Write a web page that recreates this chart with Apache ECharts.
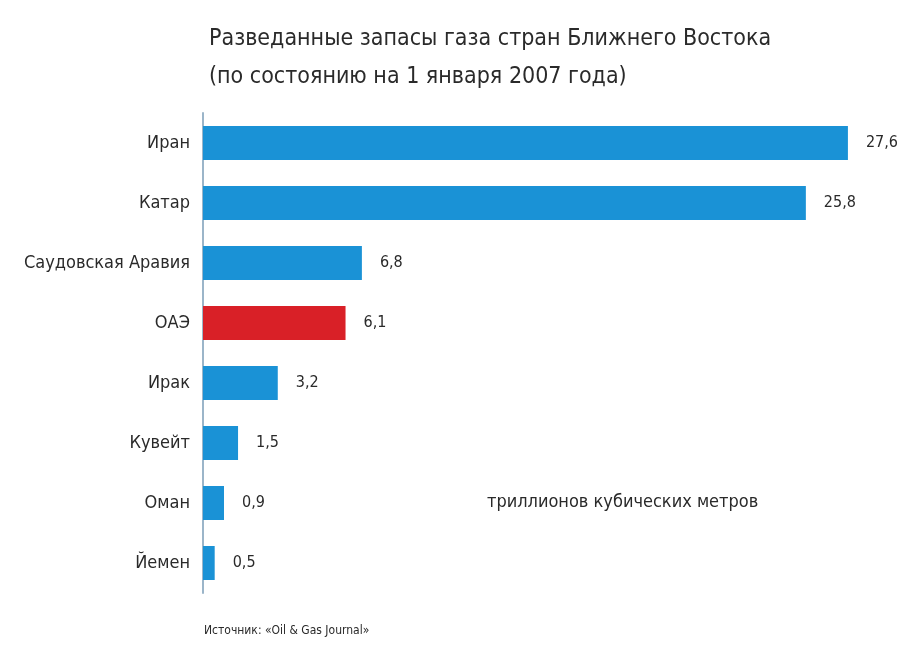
<!DOCTYPE html>
<html><head><meta charset="utf-8">
<script src="https://cdn.jsdelivr.net/npm/echarts@6/dist/echarts.min.js"></script>
<style>html,body{margin:0;padding:0;background:#fff}#c{width:918px;height:649px}</style>
</head><body><div id="c"></div>
<script>
const categories = ['Иран','Катар','Саудовская Аравия','ОАЭ','Ирак','Кувейт','Оман','Йемен'];
const values = [27.6, 25.8, 6.8, 6.1, 3.2, 1.5, 0.9, 0.5];
const highlight = 'ОАЭ';
const titleLines = ['Разведанные запасы газа стран Ближнего Востока','(по состоянию на 1 января 2007 года)'];
const unitText = 'триллионов кубических метров';
const sourceText = 'Источник: «Oil & Gas Journal»';

const FONT = 'DejaVu Sans Condensed, Liberation Sans Narrow, sans-serif';
const chart = echarts.init(document.getElementById('c'));
chart.setOption({
  backgroundColor: '#fff',
  animation: false,
  title: {
    text: titleLines.join('\n'), left: 204, top: 15,
    textStyle: {fontFamily: FONT, fontSize: 23, fontWeight: 'normal', color: '#2a2a2a', lineHeight: 38}
  },
  graphic: [
    {type: 'text', left: 487, top: 493, style: {text: unitText, font: '18px ' + FONT, fill: '#2a2a2a'}},
    {type: 'text', left: 204, top: 625, style: {text: sourceText, font: '12px ' + FONT, fill: '#2a2a2a'}}
  ],
  grid: {left: 203, right: 14, top: 113, height: 480},
  xAxis: {type: 'value', min: 0, max: 30, show: false},
  yAxis: {
    type: 'category', data: categories, inverse: true,
    axisLine: {show: true, lineStyle: {color: '#9bb5c9', width: 2}},
    axisTick: {show: false},
    axisLabel: {fontFamily: FONT, fontSize: 18, color: '#2a2a2a', margin: 13}
  },
  series: [{
    type: 'bar', barWidth: 34,
    data: values.map((v, i) => ({
      value: v,
      itemStyle: {color: categories[i] === highlight ? '#d92027' : '#1a92d6'}
    })),
    label: {
      show: true, position: 'right', distance: 18,
      fontFamily: FONT, fontSize: 16, color: '#2a2a2a',
      formatter: p => String(p.value).replace('.', ',')
    }
  }]
});
</script></body></html>
